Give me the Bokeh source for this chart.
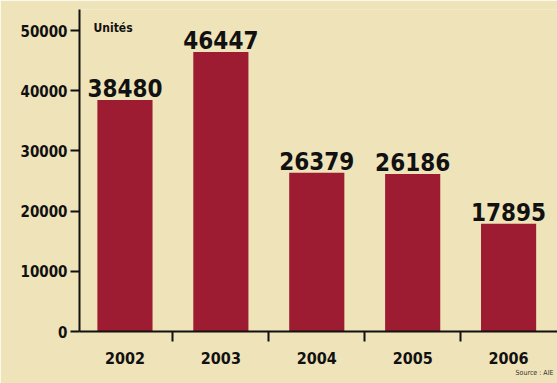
from bokeh.plotting import figure
from bokeh.models import ColumnDataSource, FixedTicker, Label, Range1d, Title
from bokeh.core.properties import value
from bokeh.embed import file_html
from bokeh.resources import INLINE

years = ["2002", "2003", "2004", "2005", "2006"]
units = [38480, 46447, 26379, 26186, 17895]
y_ticks = [0, 10000, 20000, 30000, 40000, 50000]
unit_label = "Unités"
source_label = "Source : AIE"

FONT = "'DejaVu Sans Condensed', 'DejaVu Sans'"
BG = "#EFE3B9"
BAR = "#9E1C32"

xs = list(range(len(years)))
src = ColumnDataSource(dict(x=xs, y=units, lbl=[str(v) for v in units]))

p = figure(width=557, height=383, output_backend="svg", toolbar_location=None,
           x_range=Range1d(-0.474, 4.51), y_range=Range1d(0, 53500),
           min_border_left=79, min_border_right=0, min_border_top=9, min_border_bottom=52)
p.background_fill_color = BG
p.border_fill_color = BG
p.outline_line_color = None
p.grid.visible = False

p.vbar(x="x", top="y", width=0.575, source=src, fill_color=BAR, line_color=None)
p.text(x="x", y="y", text="lbl", source=src, text_align="center", text_baseline="bottom",
       y_offset=-3, text_font=value(FONT), text_font_style="bold", text_font_size="24px",
       text_color="#111111")

xt = FixedTicker(ticks=xs, minor_ticks=[0.5, 1.5, 2.5, 3.5])
p.xaxis.ticker = xt
p.xaxis.major_label_overrides = {i: y for i, y in enumerate(years)}
p.xaxis.major_tick_out = 0
p.xaxis.major_tick_in = 0
p.xaxis.minor_tick_out = 10
p.xaxis.minor_tick_in = 0
p.xaxis.minor_tick_line_width = 2
p.xaxis.minor_tick_line_color = "#111111"
p.xaxis.axis_line_width = 2
p.xaxis.axis_line_color = "#111111"
p.xaxis.major_label_text_font = FONT
p.xaxis.major_label_text_font_style = "bold"
p.xaxis.major_label_text_font_size = "16px"
p.xaxis.major_label_text_color = "#111111"
p.xaxis.major_label_standoff = 10

p.yaxis.ticker = FixedTicker(ticks=y_ticks)
p.yaxis.major_tick_out = 9
p.yaxis.major_tick_in = 0
p.yaxis.minor_tick_line_color = None
p.yaxis.major_tick_line_width = 2
p.yaxis.major_tick_line_color = "#111111"
p.yaxis.axis_line_width = 2
p.yaxis.axis_line_color = "#111111"
p.yaxis.major_label_text_font = FONT
p.yaxis.major_label_text_font_style = "bold"
p.yaxis.major_label_text_font_size = "15px"
p.yaxis.major_label_text_color = "#111111"
p.yaxis.major_label_standoff = 3

p.add_layout(Label(x=14, y=297, x_units="screen", y_units="screen", text=unit_label,
                   text_font=FONT, text_font_style="bold", text_font_size="12px",
                   text_color="#111111"))
p.add_layout(Title(text=source_label, align="right", text_font=FONT, text_font_size="7px",
                   text_font_style="normal", text_color="#333333", standoff=0,
                   offset=4), "below")

open("out.html", "w").write(file_html(p, INLINE))
